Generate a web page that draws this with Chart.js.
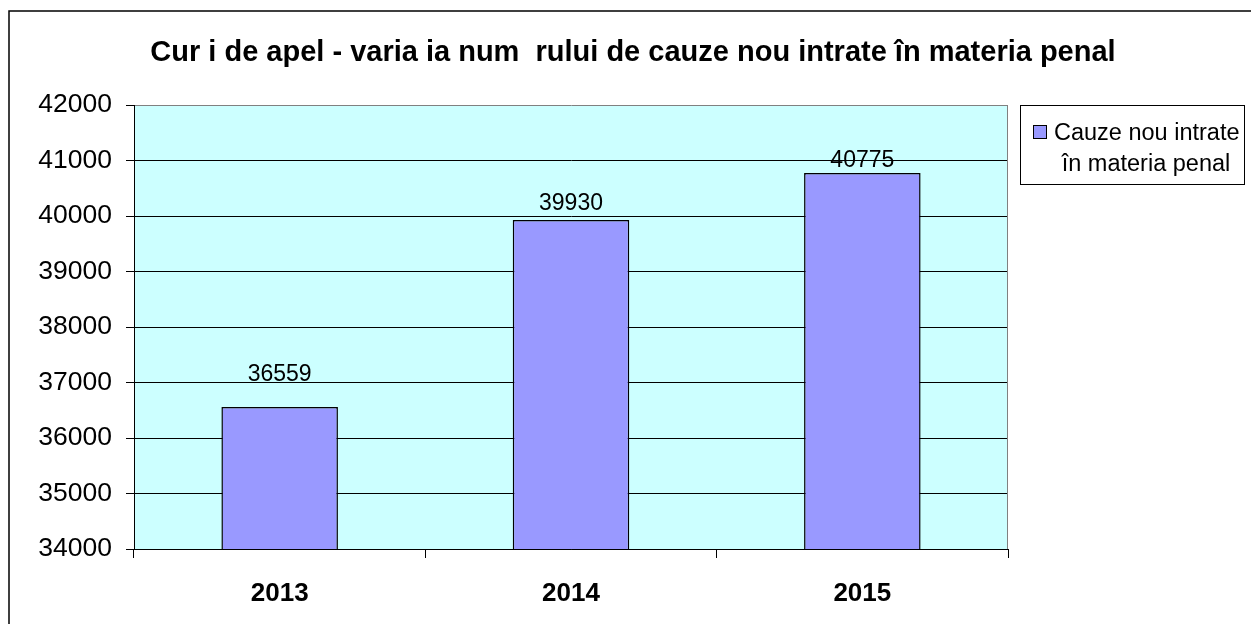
<!DOCTYPE html>
<html><head><meta charset="utf-8">
<script src="https://cdn.jsdelivr.net/npm/chart.js@4/dist/chart.umd.min.js"></script>
<style>html,body{margin:0;padding:0;background:#fff;overflow:hidden}canvas{display:block}</style>
</head><body>
<canvas id="c" width="1251" height="624"></canvas>
<script>
const categories = ['2013', '2014', '2015'];
const seriesName = 'Cauze nou intrate în materia penal';
const legendLines = ['Cauze nou intrate', 'în materia penal'];
const values = [36559, 39930, 40775];
const yTicks = [34000, 35000, 36000, 37000, 38000, 39000, 40000, 41000, 42000];
const titleText = 'Cur i de apel - varia ia num  rului de cauze nou intrate în materia penal';

const FONT = '"Liberation Sans", Arial, sans-serif';

const decor = {
  id: 'decor',
  beforeDraw(chart) {
    const ctx = chart.ctx, a = chart.chartArea;
    ctx.save();
    ctx.fillStyle = '#fff';
    ctx.fillRect(0, 0, chart.width, chart.height);
    ctx.strokeStyle = '#000';
    ctx.lineWidth = 1.5;
    ctx.strokeRect(9, 11, 1400, 800);
    ctx.fillStyle = '#CCFFFF';
    ctx.fillRect(a.left, a.top, a.right - a.left, a.bottom - a.top);
    ctx.restore();
  },
  beforeDatasetsDraw(chart) {
    const ctx = chart.ctx, a = chart.chartArea;
    ctx.save();
    ctx.strokeStyle = '#808080';
    ctx.lineWidth = 1;
    ctx.beginPath();
    ctx.moveTo(a.right - 0.5, a.top);
    ctx.lineTo(a.right - 0.5, a.bottom);
    ctx.stroke();
    ctx.restore();
  },
  afterDatasetsDraw(chart, args, opts) {
    const ctx = chart.ctx;
    const meta = chart.getDatasetMeta(0);
    ctx.save();
    ctx.fillStyle = '#000';
    ctx.font = '23px ' + FONT;
    ctx.textAlign = 'center';
    ctx.textBaseline = 'alphabetic';
    meta.data.forEach((bar, i) => {
      const v = chart.data.datasets[0].data[i];
      ctx.fillText(String(v), bar.x, bar.y - opts.labelOffsets[i]);
    });
    ctx.restore();
  },
  afterDraw(chart) {
    const ctx = chart.ctx;
    ctx.save();
    ctx.fillStyle = '#000';
    ctx.font = 'bold 29px ' + FONT;
    ctx.textAlign = 'center';
    ctx.textBaseline = 'alphabetic';
    ctx.fillText(titleText, 633, 61);
    // legend
    ctx.strokeStyle = '#000';
    ctx.lineWidth = 1;
    ctx.strokeRect(1020.5, 105.5, 224, 79);
    ctx.fillStyle = chart.data.datasets[0].backgroundColor;
    ctx.fillRect(1033.5, 125.5, 13, 13);
    ctx.strokeRect(1033.5, 125.5, 13, 13);
    ctx.fillStyle = '#000';
    ctx.font = '23.5px ' + FONT;
    ctx.textAlign = 'left';
    ctx.fillText(legendLines[0], 1054, 140);
    ctx.textAlign = 'center';
    ctx.fillText(legendLines[1], 1146, 171);
    ctx.restore();
  }
};

new Chart(document.getElementById('c'), {
  type: 'bar',
  data: {
    labels: categories,
    datasets: [{
      label: seriesName,
      data: values,
      backgroundColor: '#9999FF',
      borderColor: '#000',
      borderWidth: 1.5,
      categoryPercentage: 1,
      barPercentage: 0.4
    }]
  },
  options: {
    responsive: false,
    animation: false,
    devicePixelRatio: 1,
    layout: { padding: { left: 0, top: 105, right: 243, bottom: 0 } },
    plugins: {
      legend: { display: false },
      title: { display: false },
      tooltip: { enabled: false },
      decor: { labelOffsets: [26, 10, 6] }
    },
    scales: {
      x: {
        grid: { offset: true, drawOnChartArea: false, drawTicks: true, tickLength: 9, color: '#000', lineWidth: 1 },
        border: { color: '#000', width: 1 },
        ticks: { font: { family: FONT, size: 26, weight: 'bold' }, color: '#000', padding: 20 },
        afterFit(s) { s.height = 75; }
      },
      y: {
        min: yTicks[0],
        max: yTicks[yTicks.length - 1],
        afterBuildTicks(s) { s.ticks = yTicks.map(v => ({ value: v })); },
        ticks: { font: { family: FONT, size: 26.5 }, color: '#000', padding: 14, callback: v => String(v) },
        grid: {
          color: c => (c.tick && c.tick.value === yTicks[yTicks.length - 1]) ? '#808080' : '#000',
          tickColor: '#000', tickLength: 8, lineWidth: 1
        },
        border: { color: '#000', width: 1 },
        afterFit(s) { s.width = 134; }
      }
    }
  },
  plugins: [decor]
});
</script>
</body></html>
